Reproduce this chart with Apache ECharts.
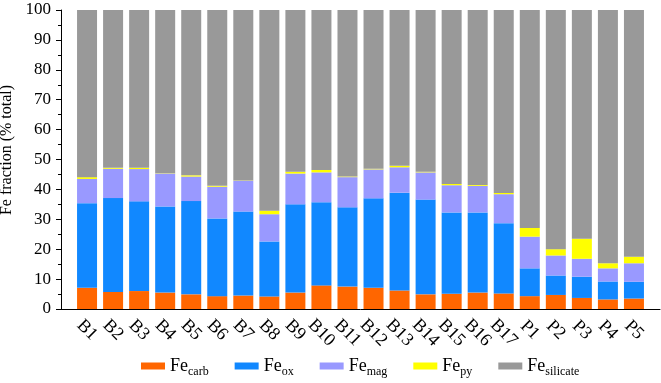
<!DOCTYPE html>
<html>
<head>
<meta charset="utf-8">
<script src="https://cdn.jsdelivr.net/npm/echarts@6/dist/echarts.min.js"></script>
<style>
html,body{margin:0;padding:0;background:#fff;}
#chart{width:661px;height:383px;}
</style>
</head>
<body>
<div id="chart"></div>
<script>
var categories = ['B1','B2','B3','B4','B5','B6','B7','B8','B9','B10','B11','B12','B13','B14','B15','B16','B17','P1','P2','P3','P4','P5'];
var feCarb = [7.1,5.7,6.0,5.5,4.9,4.3,4.5,4.2,5.5,7.9,7.5,7.1,6.2,4.9,5.1,5.5,5.2,4.3,4.7,3.7,3.2,3.5];
var feOx = [28.3,31.4,30.0,28.8,31.2,26.0,28.1,18.4,29.5,27.8,26.5,29.9,32.7,31.7,27.2,26.8,23.5,9.3,6.5,7.1,6.0,5.6];
var feMag = [8.1,9.8,10.8,11.0,8.2,10.6,10.3,9.1,10.3,10.0,10.1,9.7,8.5,9.1,9.1,8.9,9.7,10.6,6.7,6.0,4.4,6.2];
var fePy = [0.6,0.3,0.4,0.1,0.4,0.3,0.1,1.2,0.6,0.8,0.2,0.2,0.5,0.2,0.4,0.3,0.4,2.9,2.1,6.7,1.7,2.2];
var feSilicate = [55.9,52.8,52.8,54.6,55.3,58.8,57.0,67.1,54.1,53.5,55.7,53.1,52.1,54.1,58.2,58.5,61.2,72.9,80.0,76.5,84.7,82.5];
var yTicks = [0,10,20,30,40,50,60,70,80,90,100];
var seriesNames = ['carb','ox','mag','py','silicate'];

var colors = ['#FF6600','#1188FF','#9999FF','#FFFF00','#999999'];
var serif = 'Liberation Serif';
var allData = [feCarb, feOx, feMag, fePy, feSilicate];

// pad one empty slot on each side so the axis extends past the first/last bar
var axisCats = [''].concat(categories).concat(['']);
function padded(arr){ return [null].concat(arr).concat([null]); }

var series = seriesNames.map(function(n, k){
  return {
    name: n,
    type: 'bar',
    stack: 'total',
    barWidth: 20,
    data: padded(allData[k]),
    itemStyle: { color: colors[k] },
    emphasis: { disabled: true }
  };
});

var chart = echarts.init(document.getElementById('chart'), null, {renderer:'canvas'});
chart.setOption({
  animation: false,
  color: colors,
  textStyle: { fontFamily: serif, color: '#000' },
  grid: { left: 61, right: 1, top: 10, bottom: 74, containLabel: false, outerBoundsMode: 'none' },
  xAxis: {
    type: 'category',
    data: axisCats,
    boundaryGap: false,
    splitLine: { show: false },
    axisTick: { show: false },
    axisLine: { show: true, lineStyle: { color: '#000', width: 1 } },
    axisLabel: {
      interval: 0,
      rotate: -45,
      align: 'center',
      verticalAlign: 'middle',
      margin: 21,
      fontFamily: serif,
      fontSize: 18,
      color: '#000',
      formatter: function(v){ return v.length > 2 ? '{l|' + v + '}' : '{s|' + v + '}'; },
      rich: {
        s: { fontFamily: serif, fontSize: 18, color: '#000' },
        l: { fontFamily: serif, fontSize: 18, color: '#000', padding: [4, 0, 0, 4] }
      }
    }
  },
  yAxis: {
    type: 'value',
    min: 0, max: 100, interval: 10,
    name: 'Fe fraction (% total)',
    nameLocation: 'middle',
    nameGap: 37,
    nameTextStyle: { fontFamily: serif, fontSize: 16, color: '#000', padding: [0, 0, 0, 19] },
    splitLine: { show: false },
    axisLine: { show: true, lineStyle: { color: '#000', width: 1 } },
    axisTick: { show: true, length: 5, lineStyle: { color: '#000' } },
    minorTick: { show: true, splitNumber: 2, length: 3, lineStyle: { color: '#000' } },
    axisLabel: {
      margin: 10,
      fontFamily: serif, fontSize: 17, color: '#000',
      formatter: function(v){ return yTicks.indexOf(v) >= 0 ? String(v) : ''; }
    }
  },
  legend: {
    left: 141,
    top: 354,
    padding: 0,
    itemWidth: 24,
    itemHeight: 7,
    itemGap: 26,
    icon: 'rect',
    data: seriesNames,
    formatter: function(n){ return '{a|Fe}{b|' + n + '}'; },
    textStyle: {
      padding: [0,0,0,0],
      rich: {
        a: { fontFamily: serif, fontSize: 18, color: '#000', lineHeight: 24 },
        b: { fontFamily: serif, fontSize: 12, color: '#000', lineHeight: 12, padding: [12,0,0,0] }
      }
    },
    itemStyle: { borderWidth: 0 }
  },
  series: series
});
</script>
</body>
</html>
